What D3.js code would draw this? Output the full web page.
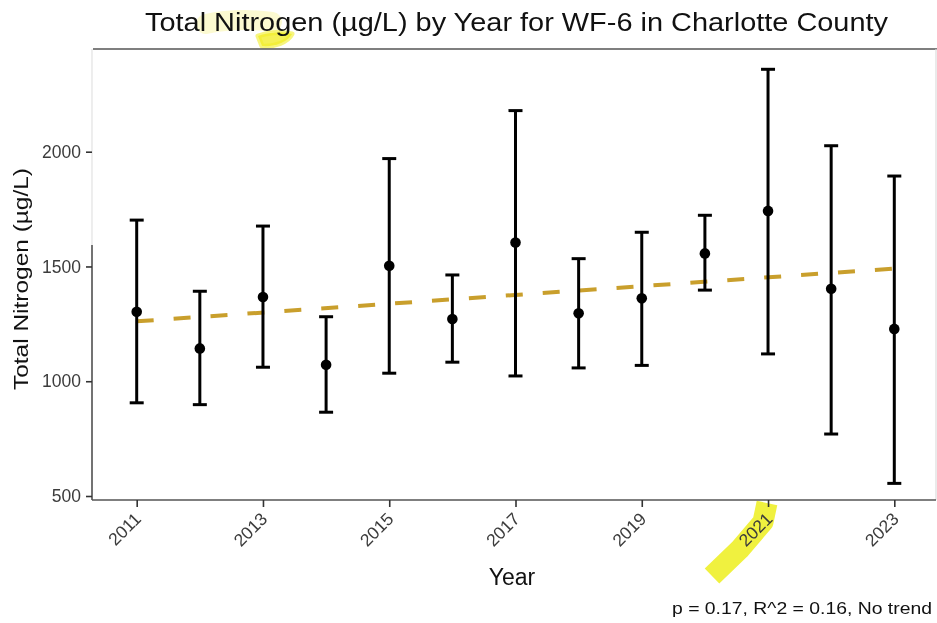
<!DOCTYPE html>
<html>
<head>
<meta charset="utf-8">
<script src="https://cdn.jsdelivr.net/npm/d3@7"></script>
<style>
  html, body { margin: 0; padding: 0; background: #fff; }
  svg { display: block; font-family: "Liberation Sans", Arial, Helvetica, sans-serif; }
</style>
</head>
<body>
<svg id="chart" width="937" height="623"></svg>
<script>
// Annual summary of total nitrogen at station WF-6
const years  = [2011, 2012, 2013, 2014, 2015, 2016, 2017, 2018, 2019, 2020, 2021, 2022, 2023];
const means  = [1303, 1143, 1367, 1072, 1503, 1271, 1604, 1296, 1361, 1557, 1742, 1403, 1228];
const lower  = [906,  898,  1061, 865,  1035, 1083, 1023, 1058, 1069, 1397, 1119, 770,  555];
const upper  = [1702, 1392, 1676, 1281, 1970, 1463, 2179, 1534, 1649, 1723, 2359, 2026, 1894];

// Fitted linear trend, evaluated at the first and last year
const trendYears  = [2011, 2023];
const trendValues = [1261, 1491];

const xTicks = [2011, 2013, 2015, 2017, 2019, 2021, 2023];
const yTicks = [500, 1000, 1500, 2000];

const titleText   = "Total Nitrogen (\u00B5g/L) by Year for WF-6 in Charlotte County";
const yLabelText  = "Total Nitrogen (\u00B5g/L)";
const xLabelText  = "Year";
const captionText = "p = 0.17, R^2 = 0.16, No trend";

const svg = d3.select("#chart");

const panel = { left: 92, right: 936, top: 49, bottom: 500 };

const x = d3.scaleLinear().domain([2011, 2023]).range([136.7, 894.3]);
const y = d3.scaleLinear().domain([500, 2000]).range([496, 151.7]);

// highlighter strokes
const hl = svg.append("g").style("mix-blend-mode", "multiply");
hl.append("path")
  .attr("d", "M206,24 C225,20 250,19 272,22")
  .attr("fill", "none")
  .attr("stroke", "#f6f27a")
  .attr("stroke-opacity", 0.35)
  .attr("stroke-width", 20)
  .attr("stroke-linecap", "round");
hl.append("path")
  .attr("d", "M258,36 C266,33 280,31 292,34 C288,42 275,47 262,46 Z")
  .attr("fill", "#f2ee2a")
  .attr("fill-opacity", 0.8)
  .attr("stroke", "#f2ee2a")
  .attr("stroke-opacity", 0.6)
  .attr("stroke-width", 5)
  .attr("stroke-linejoin", "round");
hl.append("path")
  .attr("d", "M767,503 L763,522 L740,549 L712,576")
  .attr("fill", "none")
  .attr("stroke", "#eef02a")
  .attr("stroke-opacity", 0.9)
  .attr("stroke-width", 21)
  .attr("stroke-linejoin", "round");

// title
svg.append("text")
  .attr("x", 516.5).attr("y", 31)
  .attr("text-anchor", "middle")
  .attr("font-size", 25.5)
  .attr("fill", "#111")
  .attr("textLength", 743)
  .attr("lengthAdjust", "spacingAndGlyphs")
  .text(titleText);

// panel frame
svg.append("line")
  .attr("x1", panel.left + 1).attr("x2", 937)
  .attr("y1", panel.top).attr("y2", panel.top)
  .attr("stroke", "#555").attr("stroke-width", 1.6);
svg.append("line")
  .attr("x1", panel.right).attr("x2", panel.right)
  .attr("y1", panel.top).attr("y2", panel.bottom)
  .attr("stroke", "#ddd").attr("stroke-width", 1.2);
svg.append("line")
  .attr("x1", panel.left).attr("x2", panel.left)
  .attr("y1", panel.top).attr("y2", 245)
  .attr("stroke", "#e2e2e2").attr("stroke-width", 1.2);
svg.append("line")
  .attr("x1", panel.left).attr("x2", panel.left)
  .attr("y1", 245).attr("y2", panel.bottom)
  .attr("stroke", "#444").attr("stroke-width", 1.5);
svg.append("line")
  .attr("x1", panel.left).attr("x2", panel.right)
  .attr("y1", panel.bottom).attr("y2", panel.bottom)
  .attr("stroke", "#555").attr("stroke-width", 1.6);

// y axis
const yAxis = svg.append("g")
  .attr("transform", `translate(${panel.left},0)`)
  .call(d3.axisLeft(y).tickValues(yTicks).tickSize(6).tickPadding(5).tickFormat(d3.format("d")));
yAxis.select(".domain").remove();
yAxis.selectAll(".tick line").attr("stroke", "#333").attr("stroke-width", 1.6);
yAxis.selectAll(".tick text")
  .attr("font-size", 17.5)
  .attr("font-family", "Liberation Sans, Arial, sans-serif")
  .attr("fill", "#3c3c3c");

// x axis
const xAxis = svg.append("g")
  .attr("transform", `translate(0,${panel.bottom})`)
  .call(d3.axisBottom(x).tickValues(xTicks).tickSize(7).tickFormat(d3.format("d")));
xAxis.select(".domain").remove();
xAxis.selectAll(".tick line").attr("stroke", "#333").attr("stroke-width", 1.6);
xAxis.selectAll(".tick text")
  .attr("font-size", 17.5)
  .attr("font-family", "Liberation Sans, Arial, sans-serif")
  .attr("fill", "#3c3c3c")
  .attr("text-anchor", "end")
  .attr("dy", null)
  .attr("y", null)
  .attr("transform", "translate(5,20) rotate(-45)");

// axis titles
svg.append("text")
  .attr("transform", "translate(28,279) rotate(-90)")
  .attr("text-anchor", "middle")
  .attr("font-size", 20)
  .attr("fill", "#111")
  .attr("textLength", 222)
  .attr("lengthAdjust", "spacingAndGlyphs")
  .text(yLabelText);

svg.append("text")
  .attr("x", 512).attr("y", 585)
  .attr("text-anchor", "middle")
  .attr("font-size", 23)
  .attr("fill", "#111")
  .text(xLabelText);

svg.append("text")
  .attr("x", 932).attr("y", 614)
  .attr("text-anchor", "end")
  .attr("font-size", 17)
  .attr("fill", "#111")
  .attr("textLength", 260)
  .attr("lengthAdjust", "spacingAndGlyphs")
  .text(captionText);

// trend line
const trendLine = d3.line()
  .x((d, i) => x(trendYears[i]))
  .y(d => y(d));
svg.append("path")
  .datum(trendValues)
  .attr("d", trendLine)
  .attr("fill", "none")
  .attr("stroke", "#c99f2c")
  .attr("stroke-width", 4)
  .attr("stroke-dasharray", "17,20");

// error bars
const rows = years.map((yr, i) => ({ yr, mean: means[i], lo: lower[i], hi: upper[i] }));
const bars = svg.append("g").attr("stroke", "#000").attr("stroke-width", 3);
const capHalf = 7;
bars.selectAll("line.stem").data(rows).join("line")
  .attr("class", "stem")
  .attr("x1", d => x(d.yr)).attr("x2", d => x(d.yr))
  .attr("y1", d => y(d.lo)).attr("y2", d => y(d.hi));
bars.selectAll("line.capHi").data(rows).join("line")
  .attr("class", "capHi")
  .attr("x1", d => x(d.yr) - capHalf).attr("x2", d => x(d.yr) + capHalf)
  .attr("y1", d => y(d.hi)).attr("y2", d => y(d.hi));
bars.selectAll("line.capLo").data(rows).join("line")
  .attr("class", "capLo")
  .attr("x1", d => x(d.yr) - capHalf).attr("x2", d => x(d.yr) + capHalf)
  .attr("y1", d => y(d.lo)).attr("y2", d => y(d.lo));

// yearly means
svg.append("g").selectAll("circle").data(rows).join("circle")
  .attr("cx", d => x(d.yr))
  .attr("cy", d => y(d.mean))
  .attr("r", 5.3)
  .attr("fill", "#000");
</script>
</body>
</html>
